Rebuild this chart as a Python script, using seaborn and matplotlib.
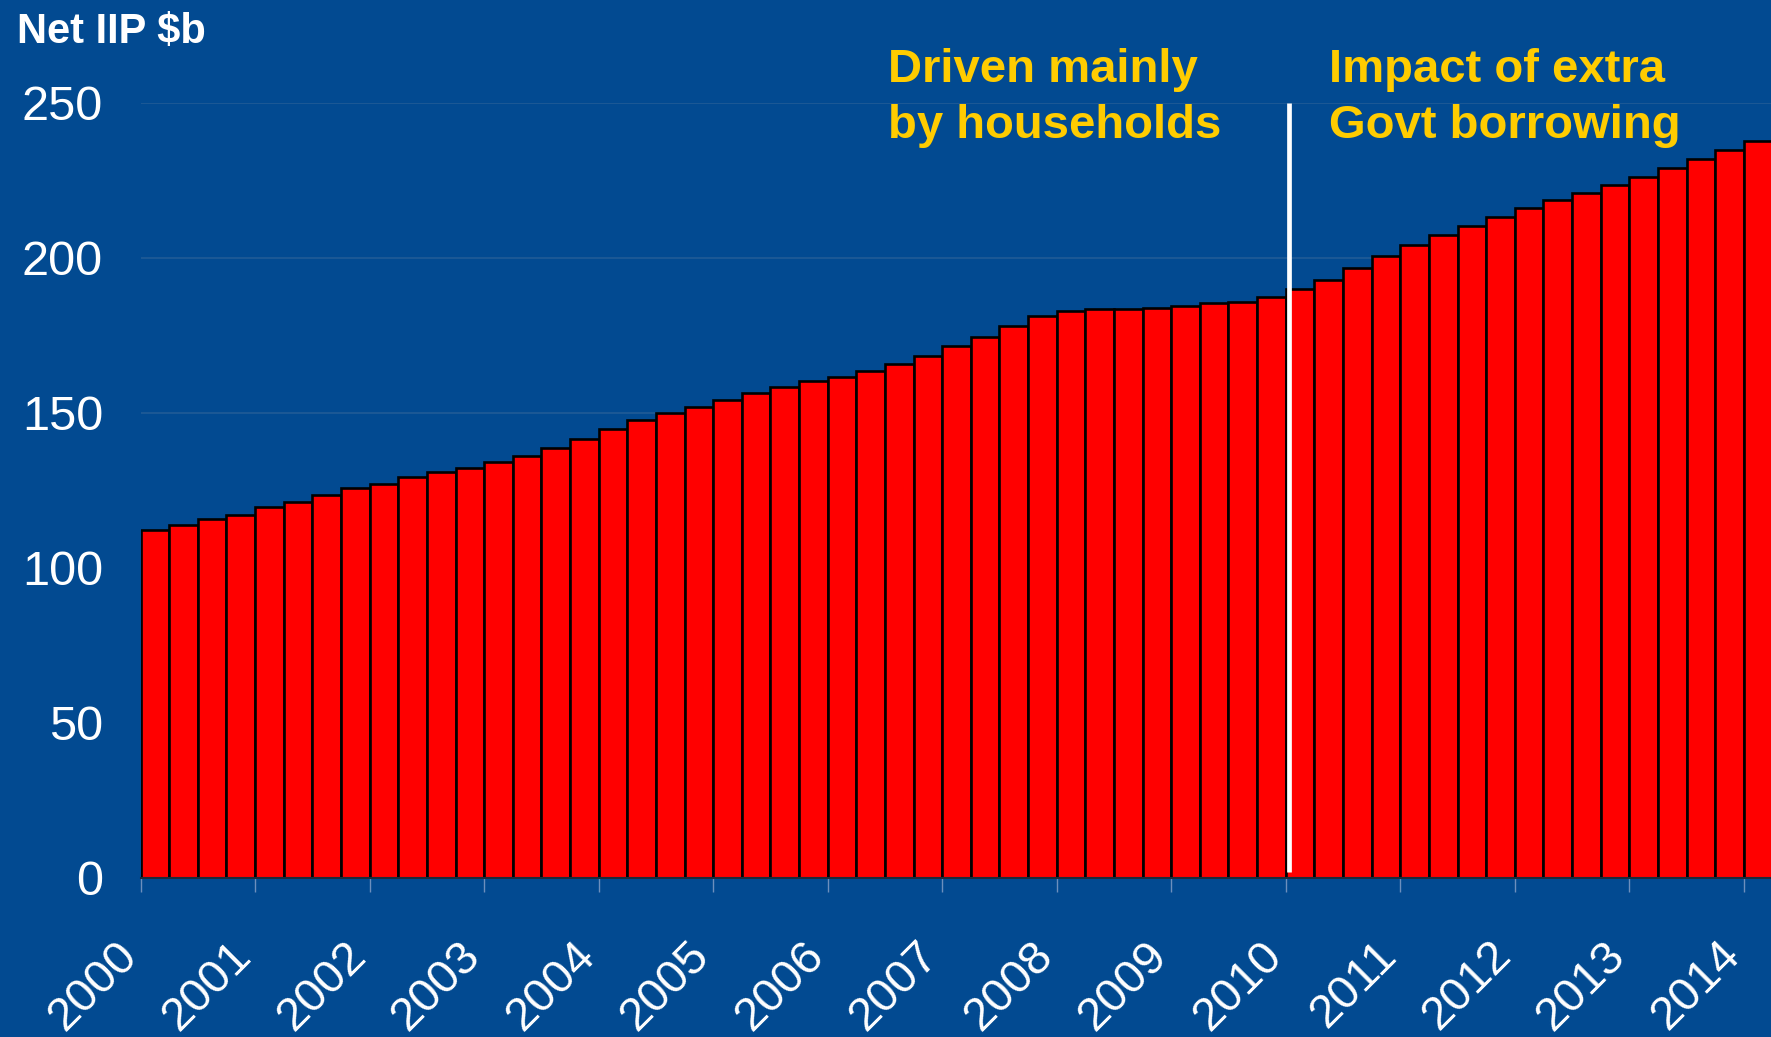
import matplotlib
matplotlib.use("Agg")
import matplotlib.pyplot as plt
import matplotlib.transforms as mtransforms
import seaborn as sns
import pandas as pd

# ---- data ----
years = ["2000", "2001", "2002", "2003", "2004", "2005", "2006", "2007",
         "2008", "2009", "2010", "2011", "2012", "2013", "2014"]
net_iip = [112.2, 113.6, 115.8, 117.0, 119.5, 121.3, 123.4, 125.8,
           127.0, 129.4, 130.8, 132.3, 134.2, 136.1, 138.6, 141.5,
           144.8, 147.6, 150.0, 151.8, 154.0, 156.5, 158.4, 160.2,
           161.5, 163.4, 165.8, 168.3, 171.6, 174.4, 178.0, 181.2,
           182.7, 183.4, 183.6, 183.9, 184.3, 185.3, 185.8, 187.3,
           189.8, 192.8, 196.8, 200.6, 204.0, 207.4, 210.4, 213.3,
           216.2, 218.6, 220.9, 223.4, 226.1, 228.9, 231.8, 234.8,
           237.8]
quarters = [f"{y}Q{q}" for y in years for q in range(1, 5)][:len(net_iip)]
y_ticks = [0, 50, 100, 150, 200, 250]
title_text = "Net IIP $b"
note_left = "Driven mainly\nby households"
note_right = "Impact of extra\nGovt borrowing"
break_quarter = "2010Q1"

df = pd.DataFrame({"quarter": quarters, "value": net_iip})

# ---- style ----
BG = "#024a91"
GRID = "#215b96"
YELLOW = "#ffcc00"

sns.set_theme(style="white")
plt.rcParams["font.family"] = ["Liberation Sans", "DejaVu Sans"]

W, H = 1771, 1037
fig = plt.figure(figsize=(W / 100, H / 100), dpi=100, facecolor=BG)
ax = fig.add_axes([140.6 / W, (H - 877.5) / H, 1 - 140.6 / W, (877.5 - 102.8) / H])
ax.set_facecolor(BG)

sns.barplot(data=df, x="quarter", y="value", color="#ff0000", saturation=1,
            edgecolor="black", linewidth=1.9, width=1.0, ax=ax, zorder=2)

ax.set_ylim(0, 250)
ax.set_xlim(-0.5, 56.45)
ax.set_yticks(y_ticks)
ax.set_yticklabels([str(v) for v in y_ticks], color="white", fontsize=35)
ax.tick_params(axis="y", length=0, pad=27)
ax.yaxis.grid(True, color=GRID, linewidth=1.2, zorder=0)
ax.set_axisbelow(True)

tick_pos = [quarters.index(f"{y}Q1") - 0.5 for y in years]
ax.set_xticks(tick_pos)
ax.set_xticklabels(years, color="white", fontsize=34, rotation=45,
                   ha="right", va="top", rotation_mode="anchor")
ax.tick_params(axis="x", length=10, width=1, color="#6d8fbd", pad=30,
               direction="out", bottom=True)
shift = mtransforms.ScaledTranslation(-26 / 100, 0, fig.dpi_scale_trans)
for lab in ax.get_xticklabels():
    lab.set_transform(lab.get_transform() + shift)

for s in ["top", "right", "left"]:
    ax.spines[s].set_visible(False)
ax.spines["bottom"].set_color("#1c2a3a")
ax.spines["bottom"].set_linewidth(1.5)
ax.spines["bottom"].set_zorder(3)
ax.set_xlabel("")
ax.set_ylabel("")

# vertical divider at start of 2010
xb = quarters.index(break_quarter) - 0.5 + 0.12
ax.plot([xb, xb], [1.9, 250], color="white", linewidth=3.4, zorder=4,
        solid_capstyle="butt")

fig.text(17 / W, 1 - 42.7 / H, title_text, color="white", fontsize=30,
         fontweight="bold", ha="left", va="baseline")
fig.text(888 / W, 1 - 138 / H, note_left, color=YELLOW, fontsize=34,
         fontweight="bold", ha="left", va="baseline", linespacing=1.35)
fig.text(1329 / W, 1 - 138 / H, note_right, color=YELLOW, fontsize=34,
         fontweight="bold", ha="left", va="baseline", linespacing=1.35)

fig.savefig("out.png", dpi=100, facecolor=BG)
